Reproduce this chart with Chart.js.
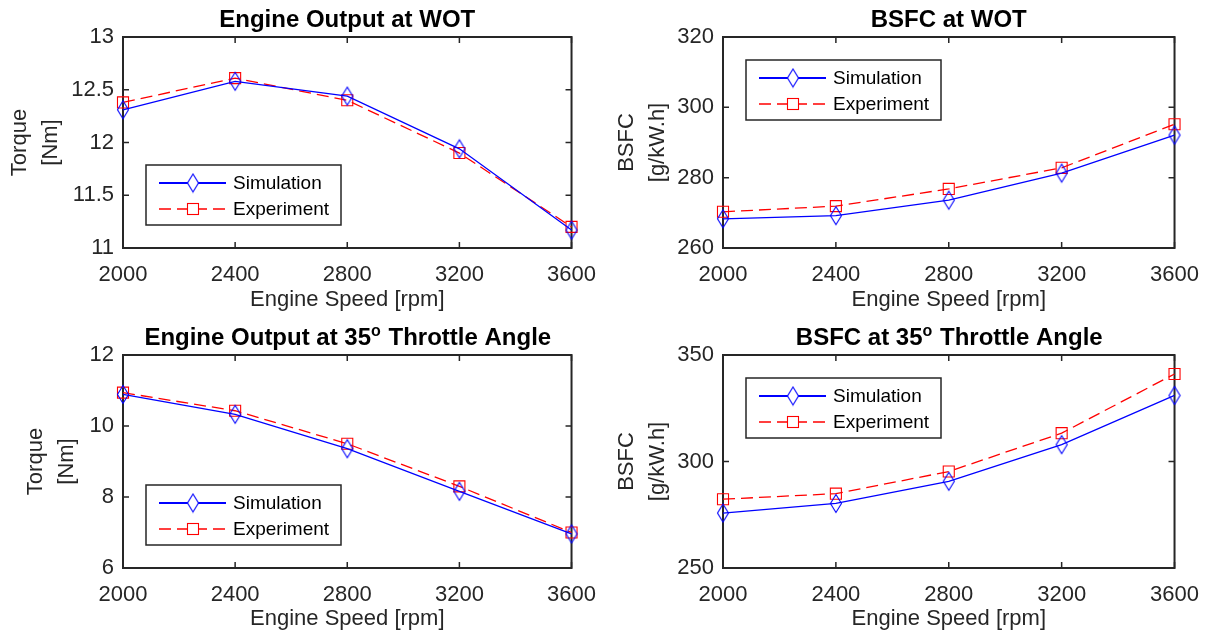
<!DOCTYPE html>
<html>
<head>
<meta charset="utf-8">
<title>Engine Output and BSFC</title>
<script src="https://cdn.jsdelivr.net/npm/chart.js@4.4.1/dist/chart.umd.min.js"></script>
<style>
  html, body { margin: 0; padding: 0; background: #fff; }
  body { width: 1213px; height: 639px; position: relative; overflow: hidden; }
  canvas { position: absolute; }
</style>
</head>
<body>
<canvas id="torqueWot"></canvas>
<canvas id="bsfcWot"></canvas>
<canvas id="torque35"></canvas>
<canvas id="bsfc35"></canvas>
<script>
// engine speed sweep [rpm]
const speeds = [2000, 2400, 2800, 3200, 3600];

// wide open throttle
const torqueWotSim = [12.31, 12.58, 12.44, 11.94, 11.17];
const torqueWotExp = [12.38, 12.61, 12.40, 11.90, 11.20];
const bsfcWotSim = [268.3, 269.2, 273.6, 281.3, 292.1];
const bsfcWotExp = [270.3, 271.9, 276.8, 282.8, 295.2];

// 35 deg throttle
const torque35Sim = [10.89, 10.33, 9.36, 8.16, 6.96];
const torque35Exp = [10.94, 10.43, 9.50, 8.30, 7.00];
const bsfc35Sim = [275.8, 280.3, 290.7, 307.9, 331.0];
const bsfc35Exp = [282.3, 284.9, 295.3, 313.3, 341.1];

const FONT = "'Liberation Sans', Arial, Helvetica, sans-serif";
const AXIS_COLOR = '#262626';
const BLUE = '#0000ff';
const RED = '#ff0000';

// hollow diamond marker, a bit taller than wide
const diamond = document.createElement('canvas');
diamond.width = 14;
diamond.height = 21;
(function () {
  const c = diamond.getContext('2d');
  c.strokeStyle = BLUE;
  c.lineWidth = 1.1;
  c.beginPath();
  c.moveTo(7, 1.5);
  c.lineTo(12.5, 10.5);
  c.lineTo(7, 19.5);
  c.lineTo(1.5, 10.5);
  c.closePath();
  c.stroke();
})();

// boxed axes with inward ticks, title with superscripts, boxed legend
const matlabAxes = {
  id: 'matlabAxes',
  beforeDatasetsDraw(chart) {
    const { ctx, chartArea: a, scales } = chart;
    const tl = 6;
    ctx.save();
    ctx.strokeStyle = AXIS_COLOR;
    ctx.lineWidth = 1.5;
    ctx.beginPath();
    scales.x.ticks.forEach((t, i) => {
      const px = scales.x.getPixelForTick(i);
      ctx.moveTo(px, a.bottom); ctx.lineTo(px, a.bottom - tl);
      ctx.moveTo(px, a.top); ctx.lineTo(px, a.top + tl);
    });
    scales.y.ticks.forEach((t, i) => {
      const py = scales.y.getPixelForTick(i);
      ctx.moveTo(a.left, py); ctx.lineTo(a.left + tl, py);
      ctx.moveTo(a.right, py); ctx.lineTo(a.right - tl, py);
    });
    ctx.stroke();
    ctx.lineWidth = 2;
    ctx.strokeRect(a.left, a.top, a.right - a.left, a.bottom - a.top);
    ctx.restore();
  },
  afterDraw(chart, args, opts) {
    const { ctx, chartArea: a } = chart;
    ctx.save();

    // title
    const big = 'bold 24px ' + FONT;
    const small = 'bold 16px ' + FONT;
    let total = 0;
    opts.title.forEach(seg => {
      ctx.font = seg.sup ? small : big;
      total += ctx.measureText(seg.text).width;
    });
    let x = (a.left + a.right) / 2 - total / 2;
    const base = a.top - 10;
    ctx.fillStyle = '#000';
    ctx.textBaseline = 'alphabetic';
    ctx.textAlign = 'left';
    opts.title.forEach(seg => {
      ctx.font = seg.sup ? small : big;
      ctx.fillText(seg.text, x, seg.sup ? base - 9 : base);
      x += ctx.measureText(seg.text).width + (seg.sup ? 1 : 0);
    });

    // legend
    const w = 195, h = 60, m = 23;
    const lx = a.left + m;
    const ly = opts.legendAt === 'nw' ? a.top + m : a.bottom - m - h;
    ctx.fillStyle = '#fff';
    ctx.fillRect(lx, ly, w, h);
    ctx.strokeStyle = AXIS_COLOR;
    ctx.lineWidth = 1.5;
    ctx.strokeRect(lx, ly, w, h);
    chart.data.datasets.forEach((ds, i) => {
      const ry = ly + 18 + i * 26;
      ctx.strokeStyle = ds.borderColor;
      ctx.lineWidth = i === 0 ? 2 : 1.3;
      ctx.setLineDash(ds.borderDash || []);
      ctx.beginPath();
      ctx.moveTo(lx + 13, ry);
      ctx.lineTo(lx + 80, ry);
      ctx.stroke();
      ctx.setLineDash([]);
      const mx = lx + 47;
      if (ds.pointStyle === diamond) {
        ctx.fillStyle = '#fff';
        ctx.beginPath();
        ctx.moveTo(mx, ry - 9); ctx.lineTo(mx + 5.5, ry); ctx.lineTo(mx, ry + 9); ctx.lineTo(mx - 5.5, ry);
        ctx.closePath();
        ctx.fill();
        ctx.drawImage(diamond, mx - diamond.width / 2, ry - diamond.height / 2);
      } else {
        ctx.fillStyle = '#fff';
        ctx.fillRect(mx - 5.5, ry - 5.5, 11, 11);
        ctx.lineWidth = 1.1;
        ctx.strokeRect(mx - 5.5, ry - 5.5, 11, 11);
      }
      ctx.fillStyle = '#000';
      ctx.font = '19px ' + FONT;
      ctx.textBaseline = 'middle';
      ctx.fillText(ds.label, lx + 87, ry + 1);
    });
    ctx.restore();
  }
};

function makePanel(id, box, plot, cfg) {
  const canvas = document.getElementById(id);
  canvas.width = box.w;
  canvas.height = box.h;
  canvas.style.left = box.x + 'px';
  canvas.style.top = box.y + 'px';

  const xTitleLh = 22 * 1.2;
  const yTitleLh = 22 * 1.4;

  new Chart(canvas, {
    type: 'line',
    data: {
      labels: speeds,
      datasets: [{
        label: 'Simulation',
        data: cfg.sim,
        borderColor: BLUE,
        borderWidth: 1.3,
        pointStyle: diamond,
        pointRadius: 9,
        pointBackgroundColor: 'rgba(0,0,0,0)',
        pointBorderColor: BLUE,
        tension: 0,
        clip: false
      }, {
        label: 'Experiment',
        data: cfg.exp,
        borderColor: RED,
        borderWidth: 1.3,
        borderDash: [12, 6],
        pointStyle: 'rect',
        pointRadius: 7.8,
        pointBorderWidth: 1.1,
        pointBackgroundColor: 'rgba(0,0,0,0)',
        pointBorderColor: RED,
        tension: 0,
        clip: false
      }]
    },
    options: {
      responsive: false,
      animation: false,
      events: [],
      layout: {
        padding: { left: 0, top: plot.top - box.y, right: box.x + box.w - plot.right, bottom: 0 }
      },
      plugins: {
        legend: { display: false },
        tooltip: { enabled: false },
        matlabAxes: { title: cfg.title, legendAt: cfg.legendAt }
      },
      scales: {
        x: {
          type: 'category',
          offset: false,
          grid: { display: false, drawTicks: false },
          border: { display: false },
          ticks: { font: { family: FONT, size: 22 }, color: AXIS_COLOR, padding: 14, maxRotation: 0, autoSkip: false },
          title: {
            display: true,
            text: 'Engine Speed [rpm]',
            font: { family: FONT, size: 22, lineHeight: 1.2 },
            color: AXIS_COLOR,
            padding: { top: 0, bottom: box.y + box.h - cfg.xTitleY - xTitleLh / 2 }
          },
          afterFit: s => { s.height = box.y + box.h - plot.bottom; }
        },
        y: {
          min: cfg.yMin,
          max: cfg.yMax,
          grid: { display: false, drawTicks: false },
          border: { display: false },
          ticks: {
            stepSize: cfg.yStep,
            font: { family: FONT, size: 22 },
            color: AXIS_COLOR,
            padding: 9,
            callback: v => String(v)
          },
          title: {
            display: true,
            text: cfg.yTitle,
            font: { family: FONT, size: 22, lineHeight: 1.4 },
            color: AXIS_COLOR,
            padding: { top: cfg.yTitleX - yTitleLh / 2, bottom: 0 }
          },
          afterFit: s => { s.width = plot.left - box.x; }
        }
      }
    },
    plugins: [matlabAxes]
  });
}

makePanel('torqueWot',
  { x: 0, y: 0, w: 610, h: 320 },
  { left: 123, top: 37, right: 578, bottom: 248 },
  {
    sim: torqueWotSim, exp: torqueWotExp,
    yMin: 11, yMax: 13, yStep: 0.5,
    yTitle: ['Torque', '[Nm]'], yTitleX: 20, xTitleY: 300,
    title: [{ text: 'Engine Output at WOT' }],
    legendAt: 'sw'
  });

makePanel('bsfcWot',
  { x: 600, y: 0, w: 613, h: 320 },
  { left: 723, top: 37, right: 1179, bottom: 248 },
  {
    sim: bsfcWotSim, exp: bsfcWotExp,
    yMin: 260, yMax: 320, yStep: 20,
    yTitle: ['BSFC', '[g/kW.h]'], yTitleX: 27, xTitleY: 300,
    title: [{ text: 'BSFC at WOT' }],
    legendAt: 'nw'
  });

makePanel('torque35',
  { x: 0, y: 318, w: 610, h: 321 },
  { left: 123, top: 355, right: 578, bottom: 568 },
  {
    sim: torque35Sim, exp: torque35Exp,
    yMin: 6, yMax: 12, yStep: 2,
    yTitle: ['Torque', '[Nm]'], yTitleX: 36, xTitleY: 619,
    title: [{ text: 'Engine Output at 35' }, { text: 'o', sup: true }, { text: ' Throttle Angle' }],
    legendAt: 'sw'
  });

makePanel('bsfc35',
  { x: 600, y: 318, w: 613, h: 321 },
  { left: 723, top: 355, right: 1179, bottom: 568 },
  {
    sim: bsfc35Sim, exp: bsfc35Exp,
    yMin: 250, yMax: 350, yStep: 50,
    yTitle: ['BSFC', '[g/kW.h]'], yTitleX: 27, xTitleY: 619,
    title: [{ text: 'BSFC at 35' }, { text: 'o', sup: true }, { text: ' Throttle Angle' }],
    legendAt: 'nw'
  });
</script>
</body>
</html>
